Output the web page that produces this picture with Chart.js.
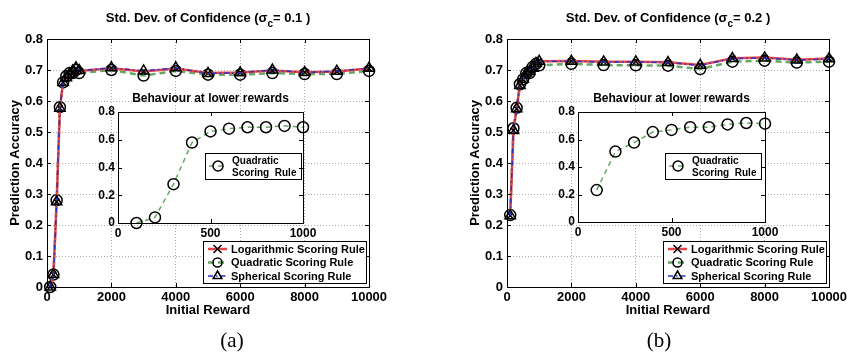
<!DOCTYPE html>
<html>
<head>
<meta charset="utf-8">
<script src="https://cdn.jsdelivr.net/npm/chart.js@4.4.1/dist/chart.umd.min.js"></script>
<style>
  body { margin: 0; background: #fff; width: 847px; height: 352px; position: relative; overflow: hidden; }
  canvas { position: absolute; }
  .cap { position: absolute; top: 328px; font-family: "Liberation Serif", "Times New Roman", serif; font-size: 21px; transform: translateX(-50%); }
</style>
</head>
<body>
<canvas id="mainA" style="left:0;top:0;width:423px;height:352px" width="423" height="352"></canvas>
<canvas id="mainB" style="left:460px;top:0;width:387px;height:352px" width="387" height="352"></canvas>
<canvas id="insetA" style="left:95px;top:88px;width:230px;height:160px" width="230" height="160"></canvas>
<canvas id="insetB" style="left:555px;top:88px;width:230px;height:160px" width="230" height="160"></canvas>
<div class="cap" style="left:232px">(a)</div>
<div class="cap" style="left:659px">(b)</div>
<script>
// initial reward values on the x axis
const rewards = [100, 200, 300, 400, 500, 600, 700, 800, 900, 1000,
                 2000, 3000, 4000, 5000, 6000, 7000, 8000, 9000, 10000];
const lowRewards = rewards.slice(0, 10);

// sigma_c = 0.1
const logA  = [0.0, 0.04, 0.275, 0.577, 0.66, 0.675, 0.685, 0.695, 0.705, 0.697,
               0.706, 0.695, 0.705, 0.690, 0.692, 0.698, 0.693, 0.695, 0.705];
const quadA = [0.0, 0.04, 0.28, 0.58, 0.66, 0.68, 0.69, 0.69, 0.70, 0.69,
               0.700, 0.682, 0.697, 0.685, 0.685, 0.690, 0.687, 0.687, 0.697];
const sphA  = [0.0, 0.04, 0.275, 0.577, 0.66, 0.675, 0.686, 0.697, 0.707, 0.698,
               0.707, 0.697, 0.707, 0.689, 0.691, 0.700, 0.692, 0.696, 0.706];

// sigma_c = 0.2
const logB  = [0.23, 0.505, 0.575, 0.65, 0.67, 0.69, 0.695, 0.705, 0.72, 0.728,
               0.729, 0.727, 0.727, 0.725, 0.716, 0.738, 0.740, 0.733, 0.737];
const quadB = [0.232, 0.512, 0.578, 0.654, 0.67, 0.69, 0.69, 0.71, 0.72, 0.715,
               0.720, 0.716, 0.715, 0.714, 0.703, 0.727, 0.730, 0.724, 0.727];
const sphB  = [0.23, 0.505, 0.575, 0.65, 0.67, 0.69, 0.695, 0.706, 0.721, 0.728,
               0.728, 0.726, 0.726, 0.724, 0.715, 0.737, 0.739, 0.732, 0.736];

const seriesNames = ['Logarithmic Scoring Rule', 'Quadratic Scoring Rule', 'Spherical Scoring Rule'];
const titles = ['0.1', '0.2'];
const insetTitle = 'Behaviour at lower rewards';

const FONT = '"Liberation Sans", Arial, sans-serif';
const tickFmt = v => v === 0 ? '0' : v.toFixed(1);
const xFmt = v => String(v);
const pts = (xs, ys) => xs.map((x, i) => ({x: x, y: ys[i]}));

const styles = [
  {borderColor: 'rgb(232,70,70)', borderWidth: 2.5, pointStyle: 'crossRot', pointRadius: 4, order: 2},
  {borderColor: 'rgb(100,168,100)', borderWidth: 2.5, borderDash: [6, 4], pointStyle: 'circle', pointRadius: 5.5, order: 3},
  {borderColor: 'rgb(40,50,200)', borderWidth: 1.5, borderDash: [5, 3, 1.5, 3], pointStyle: 'triangle', pointRadius: 6, order: 1}
];

function marker(ctx, style, x, y, r) {
  ctx.save();
  ctx.setLineDash([]);
  ctx.strokeStyle = '#000';
  ctx.lineWidth = 1.5;
  ctx.beginPath();
  if (style === 'circle') {
    ctx.arc(x, y, r, 0, Math.PI * 2);
  } else if (style === 'triangle') {
    ctx.moveTo(x, y - r);
    ctx.lineTo(x + r * 0.87, y + r * 0.5);
    ctx.lineTo(x - r * 0.87, y + r * 0.5);
    ctx.closePath();
  } else {
    const d = r * 0.8;
    ctx.moveTo(x - d, y - d); ctx.lineTo(x + d, y + d);
    ctx.moveTo(x + d, y - d); ctx.lineTo(x - d, y + d);
  }
  ctx.stroke();
  ctx.restore();
}

const framePlugin = {
  id: 'frame',
  afterDraw(chart) {
    const {ctx, chartArea: a, scales} = chart;
    ctx.save();
    ctx.strokeStyle = '#000';
    ctx.lineWidth = 1;
    ctx.strokeRect(Math.round(a.left) + 0.5, Math.round(a.top) + 0.5, Math.round(a.width), Math.round(a.height));
    ctx.beginPath();
    scales.x.ticks.forEach(t => {
      const px = Math.round(scales.x.getPixelForValue(t.value)) + 0.5;
      ctx.moveTo(px, a.bottom); ctx.lineTo(px, a.bottom - 4);
      ctx.moveTo(px, a.top); ctx.lineTo(px, a.top + 4);
    });
    scales.y.ticks.forEach(t => {
      const py = Math.round(scales.y.getPixelForValue(t.value)) + 0.5;
      ctx.moveTo(a.left, py); ctx.lineTo(a.left + 4, py);
      ctx.moveTo(a.right, py); ctx.lineTo(a.right - 4, py);
    });
    ctx.stroke();
    ctx.restore();
  }
};

function mainTitle(sig) {
  return {
    id: 'mainTitle',
    afterDraw(chart) {
      const {ctx, chartArea: a} = chart;
      const big = 'bold 13px ' + FONT, small = 'bold 10px ' + FONT;
      const p1 = 'Std. Dev. of Confidence (\u03c3', p2 = 'c', p3 = '= ' + sig + ' )';
      ctx.save();
      ctx.fillStyle = '#000';
      ctx.textBaseline = 'middle';
      ctx.font = big; const w1 = ctx.measureText(p1).width, w3 = ctx.measureText(p3).width;
      ctx.font = small; const w2 = ctx.measureText(p2).width;
      let x = (a.left + a.right) / 2 - (w1 + w2 + w3) / 2;
      const y = 18;
      ctx.textAlign = 'left';
      ctx.font = big; ctx.fillText(p1, x, y); x += w1;
      ctx.font = small; ctx.fillText(p2, x, y + 6); x += w2;
      ctx.font = big; ctx.fillText(p3, x, y);
      ctx.restore();
    }
  };
}

const legendPlugin = {
  id: 'legendBox',
  afterDraw(chart) {
    const {ctx, chartArea: a} = chart;
    const w = 163, h = 42;
    const left = a.right - 3 - w, top = a.bottom - 4 - h;
    ctx.save();
    ctx.fillStyle = '#fff';
    ctx.fillRect(left, top, w, h);
    ctx.strokeStyle = '#000';
    ctx.lineWidth = 1;
    ctx.strokeRect(Math.round(left) + 0.5, Math.round(top) + 0.5, w, h);
    const rows = [8, 21.5, 35];
    chart.data.datasets.forEach((ds, i) => {
      const y = top + rows[i];
      ctx.save();
      ctx.strokeStyle = ds.borderColor;
      ctx.lineWidth = ds.borderWidth;
      ctx.setLineDash(ds.borderDash || []);
      ctx.beginPath();
      ctx.moveTo(left + 5, y); ctx.lineTo(left + 24, y);
      ctx.stroke();
      ctx.restore();
      marker(ctx, ds.pointStyle, left + 14.5, y, ds.pointStyle === 'circle' ? 4.5 : 5);
      ctx.fillStyle = '#000';
      ctx.font = 'bold 11px ' + FONT;
      ctx.textBaseline = 'middle';
      ctx.fillText(ds.label, left + 28, y + 0.5);
    });
    ctx.restore();
  }
};

function makeMain(id, logs, quads, sphs, sig, padRight) {
  const data = [logs, quads, sphs];
  new Chart(document.getElementById(id), {
    type: 'line',
    data: {
      datasets: data.map((ys, i) => Object.assign({
        label: seriesNames[i],
        data: pts(rewards, ys),
        pointBorderColor: '#000',
        pointBackgroundColor: 'rgba(0,0,0,0)',
        pointBorderWidth: 1.5,
        tension: 0,
        clip: false
      }, styles[i]))
    },
    options: {
      responsive: false,
      animation: false,
      layout: {padding: {left: 0, top: 39, right: padRight, bottom: 0}},
      plugins: {legend: {display: false}, tooltip: {enabled: false}},
      scales: {
        x: {
          type: 'linear', min: 0, max: 10000,
          ticks: {stepSize: 2000, color: '#000', font: {family: FONT, size: 13, weight: 'bold'}, padding: 3, maxRotation: 0, autoSkip: false, callback: xFmt},
          grid: {color: '#aaa', drawTicks: false},
          border: {display: false, dash: [1, 2]},
          title: {display: true, text: 'Initial Reward', color: '#000', font: {family: FONT, size: 13, weight: 'bold'}, padding: {top: 0, bottom: 34}},
          afterFit(s) { s.height = 65; s.paddingLeft = 0; s.paddingRight = 0; }
        },
        y: {
          min: 0, max: 0.8,
          ticks: {stepSize: 0.1, color: '#000', font: {family: FONT, size: 13, weight: 'bold'}, padding: 4, callback: tickFmt},
          grid: {color: '#aaa', drawTicks: false},
          border: {display: false, dash: [1, 2]},
          title: {display: true, text: 'Prediction Accuracy', color: '#000', font: {family: FONT, size: 13, weight: 'bold'}, padding: {top: 8, bottom: 0}},
          afterFit(s) { s.width = 47; s.paddingTop = 0; s.paddingBottom = 0; }
        }
      }
    },
    plugins: [framePlugin, mainTitle(sig), legendPlugin]
  });
}

const insetPlugin = {
  id: 'insetDeco',
  beforeDraw(chart) {
    const {ctx, chartArea: a} = chart;
    ctx.save();
    ctx.fillStyle = '#fff';
    ctx.fillRect(a.left, a.top, a.width, a.height);
    ctx.restore();
  },
  afterDraw(chart) {
    const {ctx, chartArea: a} = chart;
    ctx.save();
    ctx.fillStyle = '#000';
    ctx.font = 'bold 12px ' + FONT;
    ctx.textAlign = 'center';
    ctx.textBaseline = 'middle';
    ctx.fillText(insetTitle, (a.left + a.right) / 2, 11);
    // legend
    const left = a.left + 87, top = a.top + 41, w = 96, h = 26;
    ctx.fillStyle = '#fff';
    ctx.fillRect(left, top, w, h);
    ctx.strokeStyle = '#000';
    ctx.lineWidth = 1;
    ctx.strokeRect(Math.round(left) + 0.5, Math.round(top) + 0.5, w, h);
    const ds = chart.data.datasets[0];
    const y = top + h / 2;
    ctx.save();
    ctx.strokeStyle = ds.borderColor;
    ctx.lineWidth = ds.borderWidth;
    ctx.setLineDash(ds.borderDash);
    ctx.beginPath();
    ctx.moveTo(left + 4, y); ctx.lineTo(left + 22, y);
    ctx.stroke();
    ctx.restore();
    marker(ctx, 'circle', left + 13, y, 5);
    ctx.fillStyle = '#000';
    ctx.font = 'bold 10px ' + FONT;
    ctx.textAlign = 'left';
    ctx.fillText('Quadratic', left + 27, top + 8);
    ctx.fillText('Scoring  Rule', left + 27, top + 20);
    ctx.restore();
  }
};

function makeInset(id, quads, padRight, bottom) {
  new Chart(document.getElementById(id), {
    type: 'line',
    data: {
      datasets: [Object.assign({
        label: 'Quadratic Scoring Rule',
        data: pts(lowRewards, quads.slice(0, 10)),
        pointBorderColor: '#000',
        pointBackgroundColor: 'rgba(0,0,0,0)',
        pointBorderWidth: 1.5,
        tension: 0,
        clip: false
      }, styles[1], {pointRadius: 5.5, borderWidth: 1.5, borderDash: [5, 4]})]
    },
    options: {
      responsive: false,
      animation: false,
      layout: {padding: {left: 0, top: 24, right: padRight, bottom: 0}},
      plugins: {legend: {display: false}, tooltip: {enabled: false}},
      scales: {
        x: {
          type: 'linear', min: 0, max: 1000,
          ticks: {stepSize: 500, color: '#000', font: {family: FONT, size: 12, weight: 'bold'}, padding: 3, maxRotation: 0, callback: xFmt},
          grid: {display: false, drawTicks: false},
          border: {display: false},
          afterFit(s) { s.height = 160 - bottom; s.paddingLeft = 0; s.paddingRight = 0; }
        },
        y: {
          min: 0, max: 0.8,
          ticks: {stepSize: 0.2, color: '#000', font: {family: FONT, size: 12, weight: 'bold'}, padding: 3, callback: tickFmt},
          grid: {display: false, drawTicks: false},
          border: {display: false},
          afterFit(s) { s.width = 23; s.paddingTop = 0; s.paddingBottom = 0; }
        }
      }
    },
    plugins: [insetPlugin, framePlugin]
  });
}

makeMain('mainA', logA, quadA, sphA, titles[0], 54);
makeMain('mainB', logB, quadB, sphB, titles[1], 18);
makeInset('insetA', quadA, 22, 135);
makeInset('insetB', quadB, 20, 134);
</script>
</body>
</html>
